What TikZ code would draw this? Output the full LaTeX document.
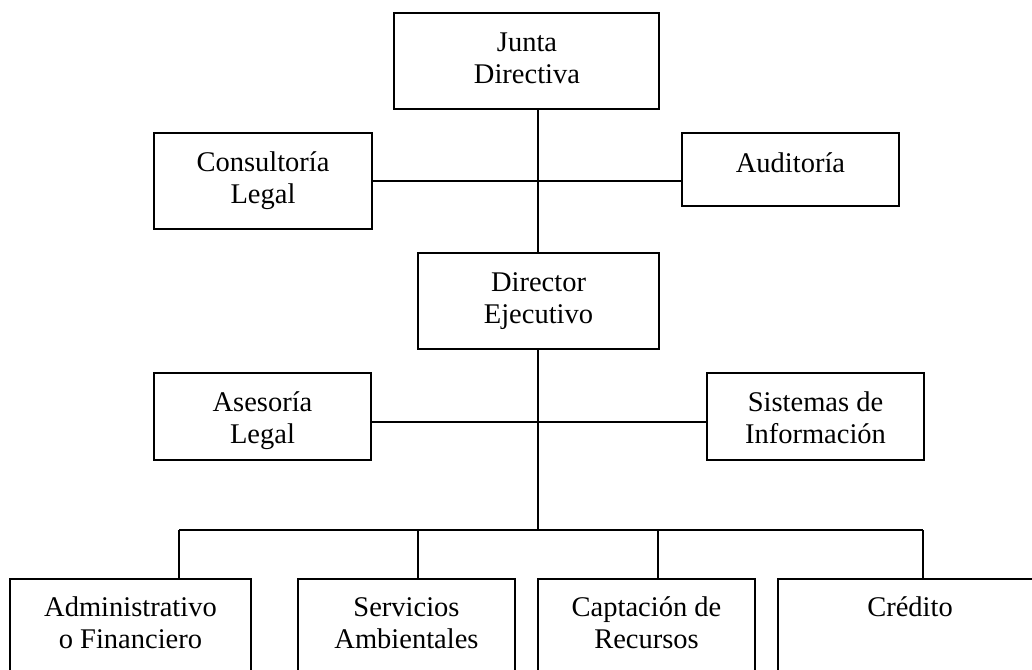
\documentclass[tikz,border=0pt]{standalone}
\usepackage{fontspec}
\setmainfont{Liberation Serif}
\begin{document}
\begin{tikzpicture}[x=1pt,y=-1pt,
  box/.style={draw, line width=1.8pt, inner sep=0pt, fill=none},
  txt/.style={align=center, inner sep=0pt, anchor=base, font=\fontsize{28.5}{32}\selectfont},
  conn/.style={line width=1.8pt}]
\useasboundingbox (0,0) rectangle (1032,669);
\clip (0,0) rectangle (1032,669);
% boxes (centre, width, height)
\node[box, minimum width=265pt, minimum height=96pt] (junta) at (526.5,61) {};
\node[box, minimum width=218pt, minimum height=96pt] (consul) at (263,181) {};
\node[box, minimum width=217pt, minimum height=73pt] (audit) at (790.5,169.5) {};
\node[box, minimum width=241pt, minimum height=96pt] (dir) at (538.5,301) {};
\node[box, minimum width=217pt, minimum height=87pt] (asesor) at (262.5,416.5) {};
\node[box, minimum width=217pt, minimum height=87pt] (sist) at (815.5,416.5) {};
\node[box, minimum width=241pt, minimum height=96pt, anchor=north] (adm) at (130.5,578) {};
\node[box, minimum width=217pt, minimum height=96pt, anchor=north] (serv) at (406.5,578) {};
\node[box, minimum width=217pt, minimum height=96pt, anchor=north] (capt) at (646.5,578) {};
\node[box, minimum width=264pt, minimum height=96pt, anchor=north] (cred) at (910,578) {};
% texts (base anchor = last line's baseline)
\node[txt] (junta-t) at (527,83) {Junta\\Directiva};
\node[txt] (consul-t) at (263,203) {Consultoría\\Legal};
\node[txt] (audit-t) at (790.5,172) {Auditoría};
\node[txt] (dir-t) at (538.5,323) {Director\\Ejecutivo};
\node[txt] (asesor-t) at (262.5,443) {Asesoría\\Legal};
\node[txt] (sist-t) at (815.5,443) {Sistemas de\\Información};
\node[txt] (adm-t) at (130.5,648) {Administrativo\\o Financiero};
\node[txt] (serv-t) at (406.5,648) {Servicios\\Ambientales};
\node[txt] (capt-t) at (646.5,648) {Captación de\\Recursos};
\node[txt] (cred-t) at (910,616) {Crédito};
% connectors
\coordinate (sp) at (538,0);
\coordinate (h1) at (0,181);
\coordinate (h2) at (0,422);
\coordinate (bus) at (538,530);
\coordinate (busl) at (179,530);
\coordinate (busr) at (923,530);
\draw[conn] (junta.south -| sp) -- (dir.north -| sp);
\draw[conn] (h1 -| consul.east) -- (h1 -| audit.west);
\draw[conn] (h2 -| asesor.east) -- (h2 -| sist.west);
\draw[conn] (dir.south -| sp) -- (bus);
\draw[conn] (busl) -- (busr);
\draw[conn] (busl) -- (busl |- adm.north);
\draw[conn] (418,530) -- (418,578);
\draw[conn] (658,530) -- (658,578);
\draw[conn] (busr) -- (busr |- cred.north);
\end{tikzpicture}
\end{document}
